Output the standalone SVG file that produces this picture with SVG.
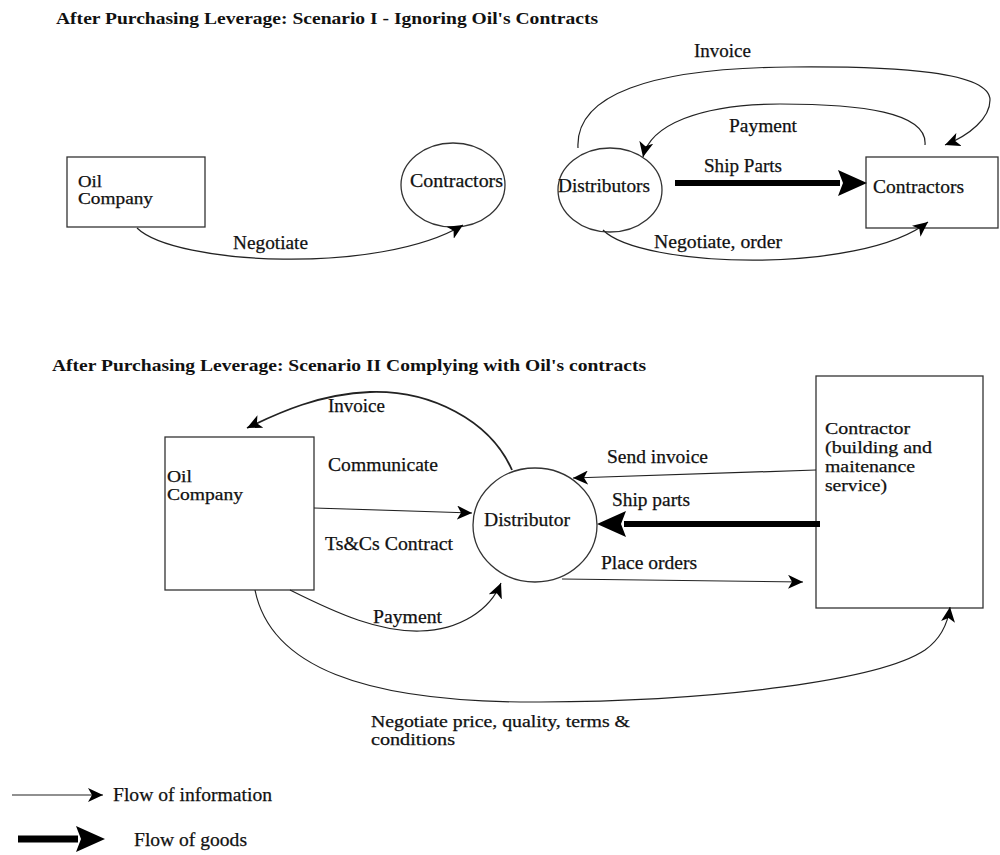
<svg xmlns="http://www.w3.org/2000/svg" width="1000" height="855" viewBox="0 0 1000 855">
<style>
text{font-family:"Liberation Serif","Times New Roman",serif;fill:#111;stroke:#111;stroke-width:0.25;}
.title{font-size:17px;font-weight:bold;stroke-width:0;}
.lbl{font-size:19px;}
.ml{font-size:16px;}
.ml17{font-size:17px;}
.node{fill:#fff;stroke:#333;stroke-width:1.3;}
.info{fill:none;stroke:#222;stroke-width:1.2;}
.goods{fill:none;stroke:#000;stroke-width:6;}
</style>
<defs>
<marker id="ah" markerUnits="userSpaceOnUse" markerWidth="16" markerHeight="14" refX="15" refY="7" orient="auto">
<path d="M0,0 L15,7 L0,14 L4,7 z" fill="#000"/>
</marker>
<marker id="ahg" markerUnits="userSpaceOnUse" markerWidth="32" markerHeight="28" refX="2" refY="13" orient="auto">
<path d="M0,0 L29,13 L0,26 L5,13 z" fill="#000"/>
</marker>
</defs>

<text class="title" x="56" y="24" textLength="542" lengthAdjust="spacingAndGlyphs">After Purchasing Leverage: Scenario I - Ignoring Oil's Contracts</text>
<text class="title" x="52" y="371" textLength="594" lengthAdjust="spacingAndGlyphs">After Purchasing Leverage: Scenario II Complying with Oil's contracts</text>

<g id="s1-oil">
<rect class="node" x="67" y="157" width="138" height="70"/>
<text class="ml" x="78" y="187" textLength="24" lengthAdjust="spacingAndGlyphs">Oil</text>
<text class="ml" x="78" y="204" textLength="75" lengthAdjust="spacingAndGlyphs">Company</text>
</g>
<g id="s1-contractors-circle">
<ellipse class="node" cx="453" cy="185" rx="52" ry="42"/>
<text class="lbl" x="410" y="187" textLength="93" lengthAdjust="spacingAndGlyphs">Contractors</text>
</g>
<g id="s1-distributors">
<ellipse class="node" cx="610" cy="190" rx="52" ry="42"/>
<text class="lbl" x="558" y="192" textLength="92" lengthAdjust="spacingAndGlyphs">Distributors</text>
</g>
<g id="s1-contractors-box">
<rect class="node" x="866" y="157" width="132" height="71"/>
<text class="lbl" x="873" y="193" textLength="91" lengthAdjust="spacingAndGlyphs">Contractors</text>
</g>

<g id="s2-oil">
<rect class="node" x="165" y="437" width="149" height="153"/>
<text class="ml" x="167" y="482" textLength="25" lengthAdjust="spacingAndGlyphs">Oil</text>
<text class="ml" x="167" y="500" textLength="76" lengthAdjust="spacingAndGlyphs">Company</text>
</g>
<g id="s2-distributor">
<ellipse class="node" cx="535" cy="525" rx="62" ry="57"/>
<text class="lbl" x="484" y="526" textLength="86" lengthAdjust="spacingAndGlyphs">Distributor</text>
</g>
<g id="s2-contractor">
<rect class="node" x="816" y="376" width="167" height="232"/>
<text class="ml17" x="825" y="434" textLength="85" lengthAdjust="spacingAndGlyphs">Contractor</text>
<text class="ml17" x="825" y="453" textLength="107" lengthAdjust="spacingAndGlyphs">(building and</text>
<text class="ml17" x="825" y="472" textLength="90" lengthAdjust="spacingAndGlyphs">maitenance</text>
<text class="ml17" x="825" y="491" textLength="62" lengthAdjust="spacingAndGlyphs">service)</text>
</g>

<g id="connectors">
<path class="info" d="M137,228 C175,265 380,275 463,225" marker-end="url(#ah)"/>
<path class="info" d="M578,148 C575,95 650,68 790,67 C900,66 990,72 990,100 C990,118 970,135 945,145" marker-end="url(#ah)"/>
<path class="info" d="M925,145 C928,112 860,104 780,104 C700,104 650,125 643,157" marker-end="url(#ah)"/>
<path class="goods" d="M675,183 L840,183" marker-end="url(#ahg)"/>
<path class="info" d="M603,230 C640,268 860,275 928,222" marker-end="url(#ah)"/>

<path class="info" style="stroke-width:1.8" d="M512,470 C490,420 430,390 370,392 C320,394 280,412 247,428" marker-end="url(#ah)"/>
<path class="info" d="M314,508 L472,513" marker-end="url(#ah)"/>
<path class="info" d="M290,590 C340,615 380,632 420,631 C460,630 490,610 501,583" marker-end="url(#ah)"/>
<path class="info" d="M816,470 L573,478" marker-end="url(#ah)"/>
<path class="goods" d="M820,524 L624,524" marker-end="url(#ahg)"/>
<path class="info" d="M562,579 L803,582" marker-end="url(#ah)"/>
<path class="info" d="M255,590 C270,665 360,703 540,702 C720,701 880,680 925,650 C942,638 948,622 950,607" marker-end="url(#ah)"/>

<path class="info" d="M12,795 L103,795" marker-end="url(#ah)"/>
<path class="goods" d="M18,839 L78,839" style="stroke-width:7" marker-end="url(#ahg)"/>
</g>

<g id="labels">
<text class="lbl" x="233" y="249" textLength="75" lengthAdjust="spacingAndGlyphs">Negotiate</text>
<text class="lbl" x="694" y="57" textLength="57" lengthAdjust="spacingAndGlyphs">Invoice</text>
<text class="lbl" x="729" y="132" textLength="68" lengthAdjust="spacingAndGlyphs">Payment</text>
<text class="lbl" x="704" y="172" textLength="78" lengthAdjust="spacingAndGlyphs">Ship Parts</text>
<text class="lbl" x="654" y="248" textLength="128" lengthAdjust="spacingAndGlyphs">Negotiate, order</text>

<text class="lbl" x="328" y="412" textLength="57" lengthAdjust="spacingAndGlyphs">Invoice</text>
<text class="lbl" x="328" y="471" textLength="110" lengthAdjust="spacingAndGlyphs">Communicate</text>
<text class="lbl" x="325" y="550" textLength="128" lengthAdjust="spacingAndGlyphs">Ts&amp;Cs Contract</text>
<text class="lbl" x="373" y="623" textLength="69" lengthAdjust="spacingAndGlyphs">Payment</text>
<text class="lbl" x="607" y="463" textLength="101" lengthAdjust="spacingAndGlyphs">Send invoice</text>
<text class="lbl" x="612" y="506" textLength="78" lengthAdjust="spacingAndGlyphs">Ship parts</text>
<text class="lbl" x="601" y="569" textLength="96" lengthAdjust="spacingAndGlyphs">Place orders</text>
<text class="ml" x="371" y="727" textLength="259" lengthAdjust="spacingAndGlyphs">Negotiate price, quality, terms &amp;</text>
<text class="ml" x="371" y="745" textLength="84" lengthAdjust="spacingAndGlyphs">conditions</text>

<text class="lbl" x="113" y="801" textLength="159" lengthAdjust="spacingAndGlyphs">Flow of information</text>
<text class="lbl" x="134" y="846" textLength="113" lengthAdjust="spacingAndGlyphs">Flow of goods</text>
</g>
</svg>
